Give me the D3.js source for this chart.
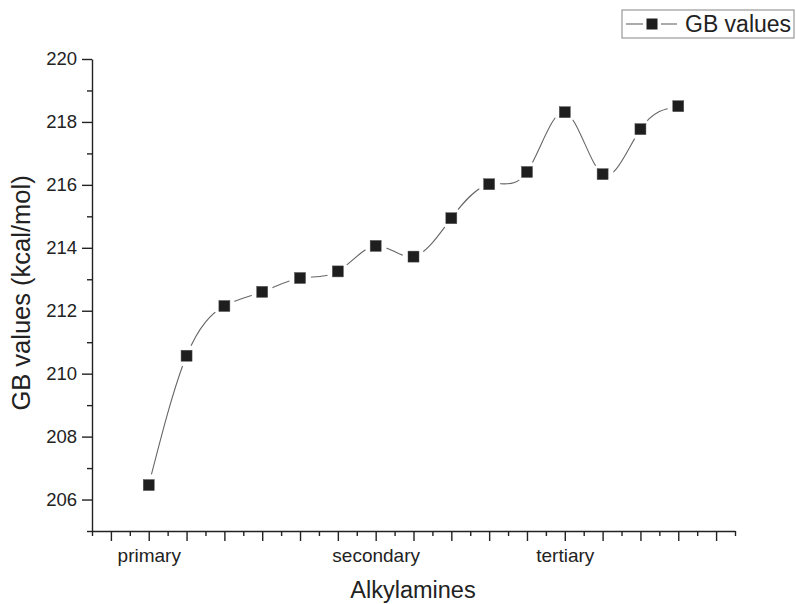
<!DOCTYPE html>
<html>
<head>
<meta charset="utf-8">
<script src="https://cdn.jsdelivr.net/npm/d3@7"></script>
<style>
  body { margin: 0; background: #fff; }
  text { font-family: "Liberation Sans", Arial, sans-serif; fill: #222; }
</style>
</head>
<body>
<div id="chart"></div>
<script>
// data
var positions = [1, 2, 3, 4, 5, 6, 7, 8, 9, 10, 11, 12, 13, 14, 15];
var gbValues = [206.46, 210.57, 212.15, 212.60, 213.04, 213.25, 214.06, 213.72,
                214.94, 216.02, 216.41, 218.31, 216.34, 217.77, 218.50];
var pointLabels = ["primary", "", "", "", "", "", "secondary", "", "", "", "", "tertiary", "", "", ""];
var yTicks = [206, 208, 210, 212, 214, 216, 218, 220];
var yMinorTicks = [205, 207, 209, 211, 213, 215, 217, 219];
var xTicks = d3.range(0, 17);
var xMinorTicks = d3.range(-0.5, 17, 1);
var seriesName = "GB values";

var width = 796, height = 604;

var svg = d3.select("#chart")
    .append("svg")
    .attr("width", width)
    .attr("height", height);

//scales
var x = d3.scaleLinear().domain([-0.5, 16.5]).range([92, 735]);
var y = d3.scaleLinear().domain([205, 220]).range([531, 59]);

var labelAt = {};
positions.forEach(function(p, i) { labelAt[p] = pointLabels[i]; });

//y axis
var yAxis = svg.append("g")
    .attr("transform", "translate(92,0)")
    .call(d3.axisLeft(y).tickValues(yTicks).tickSize(10).tickSizeOuter(0).tickPadding(5));
yAxis.selectAll("text").style("font-size", "18.5px");

svg.append("g")
    .attr("transform", "translate(92,0)")
    .call(d3.axisLeft(y).tickValues(yMinorTicks).tickSize(5).tickFormat(""))
    .select(".domain").remove();

//x axis
var xAxis = svg.append("g")
    .attr("transform", "translate(0,531)")
    .call(d3.axisBottom(x).tickValues(xTicks).tickSize(10).tickSizeOuter(0)
        .tickFormat(function(d) { return labelAt[d] || ""; }));
xAxis.selectAll("text")
    .attr("y", 31)
    .attr("dy", null)
    .style("font-size", "19px");

svg.append("g")
    .attr("transform", "translate(0,531)")
    .call(d3.axisBottom(x).tickValues(xMinorTicks).tickSize(5).tickFormat(""))
    .select(".domain").remove();

svg.selectAll(".domain, .tick line")
    .attr("stroke", "#222")
    .attr("stroke-width", 1.4);

//axis titles
svg.append("text")
    .attr("x", 413)
    .attr("y", 598)
    .attr("text-anchor", "middle")
    .style("font-size", "23.5px")
    .text("Alkylamines");

svg.append("text")
    .attr("transform", "translate(30,293) rotate(-90)")
    .attr("text-anchor", "middle")
    .style("font-size", "25.5px")
    .text("GB values (kcal/mol)");

//spline through the points
var line = d3.line()
    .x(function(d, i) { return x(positions[i]); })
    .y(function(d) { return y(d); })
    .curve(d3.curveNatural);

svg.append("path")
    .datum(gbValues)
    .attr("d", line)
    .attr("fill", "none")
    .attr("stroke", "#666")
    .attr("stroke-width", 1.1);

//gaps around symbols
svg.append("g").selectAll("circle")
    .data(gbValues).enter()
    .append("circle")
    .attr("cx", function(d, i) { return x(positions[i]); })
    .attr("cy", function(d) { return y(d); })
    .attr("r", 11)
    .attr("fill", "#fff");

svg.append("g").selectAll("rect")
    .data(gbValues).enter()
    .append("rect")
    .attr("x", function(d, i) { return x(positions[i]) - 5.5; })
    .attr("y", function(d) { return y(d) - 5.5; })
    .attr("width", 11)
    .attr("height", 11)
    .attr("fill", "#1e1e1e")
    .attr("stroke", "#555")
    .attr("stroke-width", 0.5);

//legend
var legend = svg.append("g");
legend.append("rect")
    .attr("x", 622).attr("y", 10)
    .attr("width", 172).attr("height", 28)
    .attr("fill", "#fff")
    .attr("stroke", "#999")
    .attr("stroke-width", 1.2);
legend.append("line")
    .attr("x1", 626).attr("x2", 643).attr("y1", 24).attr("y2", 24)
    .attr("stroke", "#666").attr("stroke-width", 1.1);
legend.append("line")
    .attr("x1", 661).attr("x2", 677).attr("y1", 24).attr("y2", 24)
    .attr("stroke", "#666").attr("stroke-width", 1.1);
legend.append("rect")
    .attr("x", 646.5).attr("y", 18.5)
    .attr("width", 11).attr("height", 11)
    .attr("fill", "#1e1e1e");
legend.append("text")
    .attr("x", 685).attr("y", 32)
    .style("font-size", "23px")
    .text(seriesName);
</script>
</body>
</html>
